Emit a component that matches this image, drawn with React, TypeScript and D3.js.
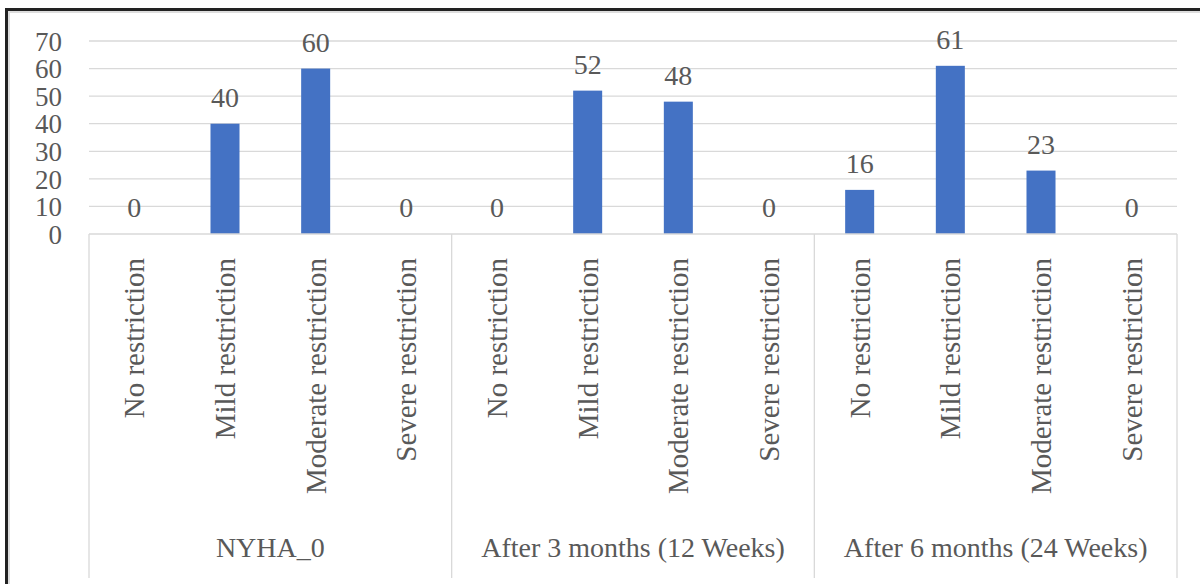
import { useEffect, useRef } from "react";
import * as d3 from "d3";

const GROUPS = ["NYHA_0", "After 3 months (12 Weeks)", "After 6 months (24 Weeks)"];
const CATEGORIES = ["No restriction", "Mild restriction", "Moderate restriction", "Severe restriction"];
const NYHA_0 = [0, 40, 60, 0];
const AFTER_3M = [0, 52, 48, 0];
const AFTER_6M = [16, 61, 23, 0];
const Y_TICKS = [0, 10, 20, 30, 40, 50, 60, 70];

const BAR = "#4472C4";
const TEXT = "#595959";
const GRID = "#d9d9d9";
const FONT = "'Liberation Serif', 'Times New Roman', serif";

export default function App() {
  const ref = useRef<SVGSVGElement>(null);

  useEffect(() => {
    const svg = d3.select(ref.current);
    svg.selectAll("*").remove();

    const W = 1200, H = 584;
    const left = 89, right = 1177, top = 41, bottom = 234, axisBottom = 578;

    const series = [NYHA_0, AFTER_3M, AFTER_6M];
    const rows = GROUPS.flatMap((g, gi) =>
      CATEGORIES.map((c, ci) => ({ key: `${gi}-${ci}`, group: g, cat: c, value: series[gi][ci] }))
    );

    const xGroup = d3.scaleBand().domain(GROUPS).range([left, right]).padding(0);
    const x = d3.scaleBand().domain(rows.map(r => r.key)).range([left, right]).padding(0);
    const y = d3.scaleLinear().domain([0, 70]).range([bottom, top]);
    const barW = x.bandwidth() * 0.32;

    svg.attr("width", W).attr("height", H);
    svg.append("rect").attr("width", W).attr("height", H).attr("fill", "#fff");

    // frame (left + top only)
    svg.append("rect").attr("x", 5).attr("y", 8).attr("width", 3).attr("height", H - 8).attr("fill", "#222");
    svg.append("rect").attr("x", 5).attr("y", 8).attr("width", W - 5).attr("height", 3).attr("fill", "#222");
    svg.append("rect").attr("x", 8).attr("y", 11).attr("width", 2).attr("height", H - 11).attr("fill", "#ddd");
    svg.append("rect").attr("x", 8).attr("y", 11).attr("width", W - 8).attr("height", 2).attr("fill", "#ddd");

    // gridlines
    svg.append("g")
      .selectAll("line")
      .data(Y_TICKS.filter(t => t > 0))
      .join("line")
      .attr("x1", left).attr("x2", right)
      .attr("y1", d => y(d)).attr("y2", d => y(d))
      .attr("stroke", GRID).attr("stroke-width", 1.3);

    // y tick labels
    svg.append("g")
      .selectAll("text")
      .data(Y_TICKS)
      .join("text")
      .attr("x", 62)
      .attr("y", d => y(d))
      .attr("dy", "0.36em")
      .attr("text-anchor", "end")
      .attr("font-family", FONT).attr("font-size", 27).attr("fill", TEXT)
      .text(d => d);

    // bars
    svg.append("g")
      .selectAll("rect")
      .data(rows)
      .join("rect")
      .attr("x", d => x(d.key)! + (x.bandwidth() - barW) / 2)
      .attr("y", d => y(d.value))
      .attr("width", barW)
      .attr("height", d => y(0) - y(d.value))
      .attr("fill", BAR);

    // data labels
    svg.append("g")
      .selectAll("text")
      .data(rows)
      .join("text")
      .attr("x", d => x(d.key)! + x.bandwidth() / 2)
      .attr("y", d => y(d.value) - 17)
      .attr("text-anchor", "middle")
      .attr("font-family", FONT).attr("font-size", 28).attr("fill", TEXT)
      .text(d => d.value);

    // category axis: baseline + separators
    svg.append("line")
      .attr("x1", left).attr("x2", right).attr("y1", bottom).attr("y2", bottom)
      .attr("stroke", GRID).attr("stroke-width", 1.3);
    svg.append("g")
      .selectAll("line")
      .data([...GROUPS.map(g => xGroup(g)!), right])
      .join("line")
      .attr("x1", d => d).attr("x2", d => d)
      .attr("y1", bottom).attr("y2", axisBottom)
      .attr("stroke", GRID).attr("stroke-width", 1.3);

    // rotated category labels
    svg.append("g")
      .selectAll("text")
      .data(rows)
      .join("text")
      .attr("transform", d => `translate(${x(d.key)! + x.bandwidth() / 2},258) rotate(-90)`)
      .attr("dy", "0.35em")
      .attr("text-anchor", "end")
      .attr("font-family", FONT).attr("font-size", 29).attr("fill", TEXT)
      .text(d => d.cat);

    // group labels
    svg.append("g")
      .selectAll("text")
      .data(GROUPS)
      .join("text")
      .attr("x", d => xGroup(d)! + xGroup.bandwidth() / 2)
      .attr("y", 557)
      .attr("text-anchor", "middle")
      .attr("font-family", FONT).attr("font-size", 28).attr("fill", TEXT)
      .text(d => d);
  }, []);

  return (
    <div style={{ position: "fixed", left: 0, top: 0 }}>
      <svg ref={ref} style={{ display: "block" }} />
    </div>
  );
}
